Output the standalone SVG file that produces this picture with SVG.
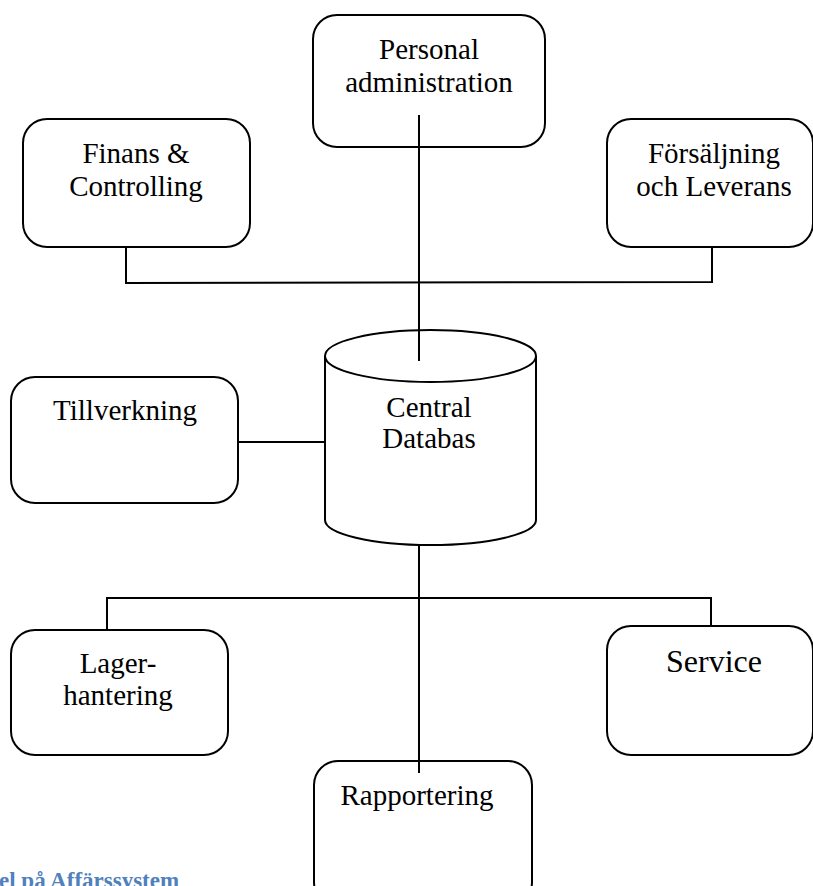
<svg xmlns="http://www.w3.org/2000/svg" width="813" height="886" viewBox="0 0 813 886">
<style>
.box{fill:#fff;stroke:#000;stroke-width:2}
.ln{fill:none;stroke:#000;stroke-width:2}
.t{font-family:"Liberation Serif","Times New Roman",serif;font-size:29px;fill:#000;text-anchor:middle}
.cap{font-family:"Liberation Serif","Times New Roman",serif;font-size:23px;font-weight:bold;fill:#4F81BD}
</style>
<rect width="813" height="886" fill="#fff"/>
<g id="personal">
<rect class="box" x="313" y="15" width="232" height="132" rx="24"/>
<text class="t" x="429" y="59">Personal</text>
<text class="t" x="429" y="92">administration</text>
</g>
<g id="finans">
<rect class="box" x="23" y="119" width="227" height="128" rx="24"/>
<text class="t" x="136" y="163">Finans &amp;</text>
<text class="t" x="136" y="196">Controlling</text>
</g>
<g id="forsaljning">
<rect class="box" x="607" y="119" width="206" height="128" rx="24"/>
<text class="t" x="714" y="163">Försäljning</text>
<text class="t" x="714" y="196">och Leverans</text>
</g>
<g id="databas">
<path class="box" d="M325,356 L325,520 A105.5,25 0 0 0 536,520 L536,356 A105.5,26 0 0 0 325,356 Z"/>
<path class="ln" d="M325,356 A105.5,26 0 0 0 536,356"/>
<text class="t" x="429" y="417">Central</text>
<text class="t" x="429" y="448">Databas</text>
</g>
<g id="tillverkning">
<rect class="box" x="11" y="377" width="227" height="126" rx="24"/>
<text class="t" x="125" y="420">Tillverkning</text>
</g>
<g id="lager">
<rect class="box" x="11" y="630" width="217" height="125" rx="24"/>
<text class="t" x="118" y="673">Lager-</text>
<text class="t" x="118" y="705">hantering</text>
</g>
<g id="service">
<rect class="box" x="607" y="626" width="206" height="129" rx="24"/>
<text class="t" x="714" y="672" style="font-size:32px">Service</text>
</g>
<g id="rapportering">
<rect class="box" x="314" y="761" width="218" height="145" rx="24"/>
<text class="t" x="417" y="805">Rapportering</text>
</g>
<g id="connectors">
<line class="ln" x1="419" y1="115" x2="419" y2="361"/>
<polyline class="ln" points="126,247 126,283 712,282 712,247"/>
<line class="ln" x1="238" y1="442" x2="325" y2="442"/>
<line class="ln" x1="419" y1="545" x2="419" y2="773"/>
<polyline class="ln" points="107,630 107,598 711,598 711,626"/>
</g>
<text class="cap" x="-1" y="888">el på Affärssystem</text>
</svg>
